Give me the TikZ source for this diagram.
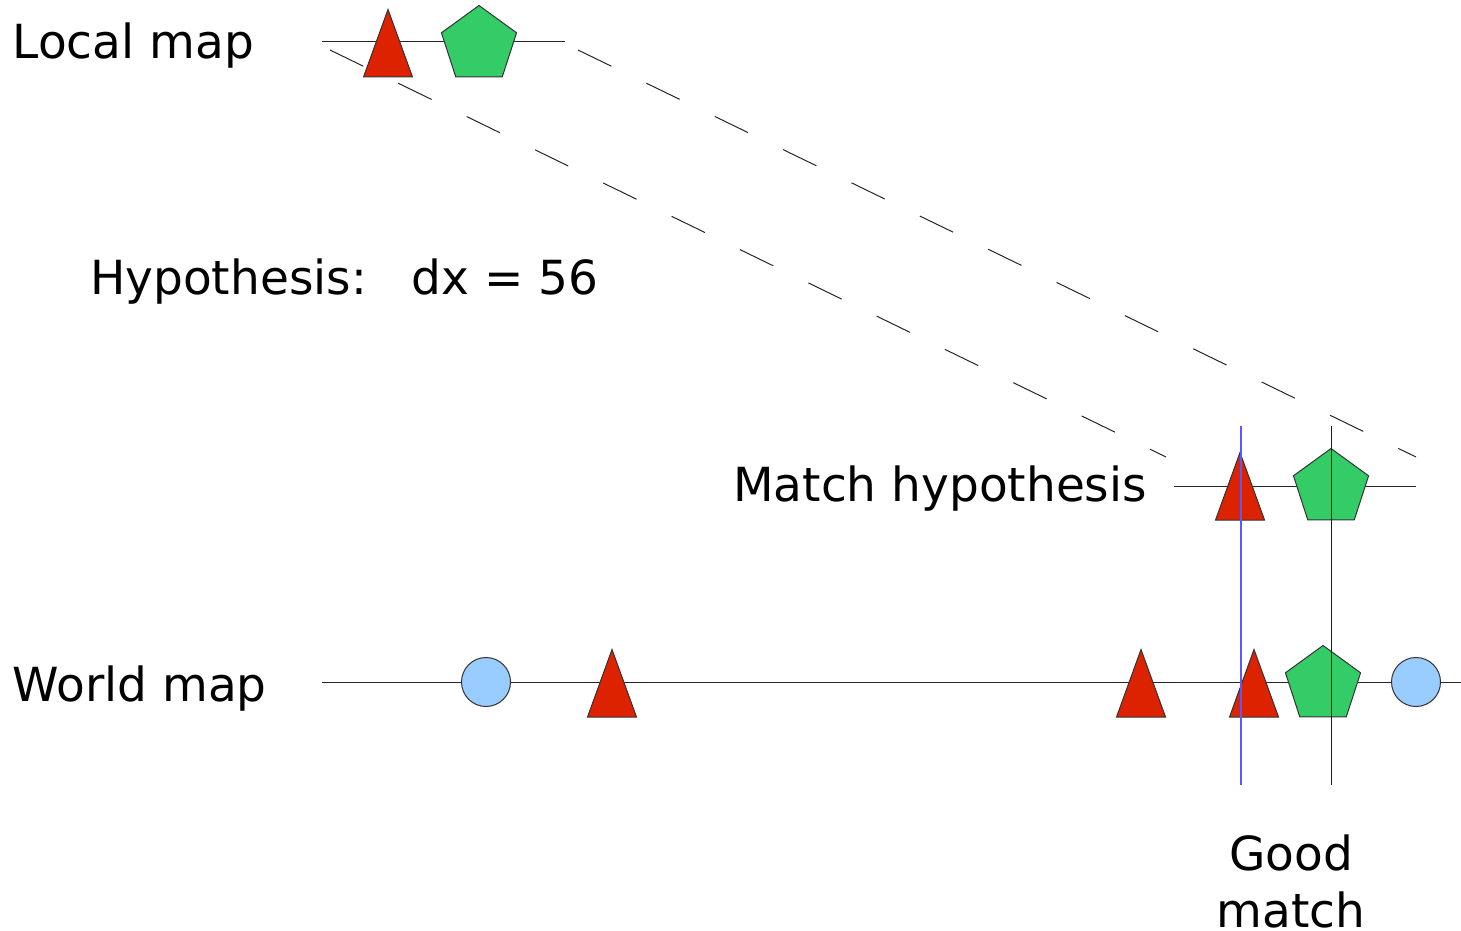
\documentclass[tikz,border=0pt]{standalone}
\usepackage{fontspec}
\setmainfont{DejaVu Sans}
\usetikzlibrary{shapes.geometric}
\definecolor{tred}{HTML}{DD2200}
\definecolor{tgreen}{HTML}{33CC66}
\definecolor{tblue}{HTML}{99CCFF}
\begin{document}
\begin{tikzpicture}[x=1pt,y=-1pt,
  lbl/.style={font=\fontsize{47}{56}\selectfont, inner sep=0pt, anchor=base west},
  axisline/.style={line width=1pt, draw=black!85},
  pent/.style={regular polygon, regular polygon sides=5, minimum size=79pt, inner sep=0pt, draw=black!80, fill=tgreen, line width=1pt},
  dot/.style={circle, minimum size=49pt, inner sep=0pt, draw=black!80, fill=tblue, line width=1pt},
  guide/.style={draw=blue, line width=1pt},
  softguide/.style={draw=blue!65, line width=1.7pt},
  hyp/.style={draw=black!85, dash pattern=on 37pt off 39pt, line width=1pt},
  tri/.pic={\draw[fill=tred, draw=black!80, line width=1pt] (-24.5,0) -- (0,-67.5) -- (24.5,0) -- cycle;}
]
\useasboundingbox (0,0) rectangle (1461,931);

% labels
\node[lbl] (tlocal) at (12.5,59) {Local map};
\node[lbl] (thyp) at (90,294) {Hypothesis:\ \ \ dx = 56};
\node[lbl] (tmatch) at (733,501) {Match hypothesis};
\node[lbl] (tworld) at (12.5,701) {World map};
\node[font=\fontsize{47}{57}\selectfont, inner sep=0pt, anchor=north, align=center] (tgood) at (1291,835) {Good\\match};

% axis end points
\coordinate (l1) at (322,42);  \coordinate (l2) at (565,42);
\coordinate (m1) at (1174,486); \coordinate (m2) at (1416,486);
\coordinate (w1) at (322,682); \coordinate (w2) at (1461,682);
\coordinate (d1a) at (330,50);  \coordinate (d1b) at (1166,457);
\coordinate (d2a) at (578,50);  \coordinate (d2b) at (1416,457);
\coordinate (g1a) at (1241,426); \coordinate (g1b) at (1241,785);
\coordinate (g2a) at (1331,426); \coordinate (g2b) at (1331,785);

\draw[axisline] (l1) -- (l2);
\draw[axisline] (m1) -- (m2);
\draw[axisline] (w1) -- (w2);
\draw[hyp] (d1a) -- (d1b);
\draw[hyp] (d2a) -- (d2b);

% local map
\pic (ltri) at (388,77) {tri};
\node[pent] (lpent) at (479,45) {};
% match hypothesis
\pic (mtri) at (1240,520) {tri};
\node[pent] (mpent) at (1331,488) {};
% world map
\node[dot] (wc1) at (486,682) {};
\pic (wt1) at (612,717) {tri};
\pic (wt2) at (1141,717) {tri};
\pic (wt3) at (1254,717) {tri};
\node[pent] (wpent) at (1323,685) {};
\node[dot] (wc2) at (1416,682) {};

% guides
\draw[softguide] (g1a) -- (g1b);
\draw[guide] (g2a) -- (g2b);
\end{tikzpicture}
\end{document}
